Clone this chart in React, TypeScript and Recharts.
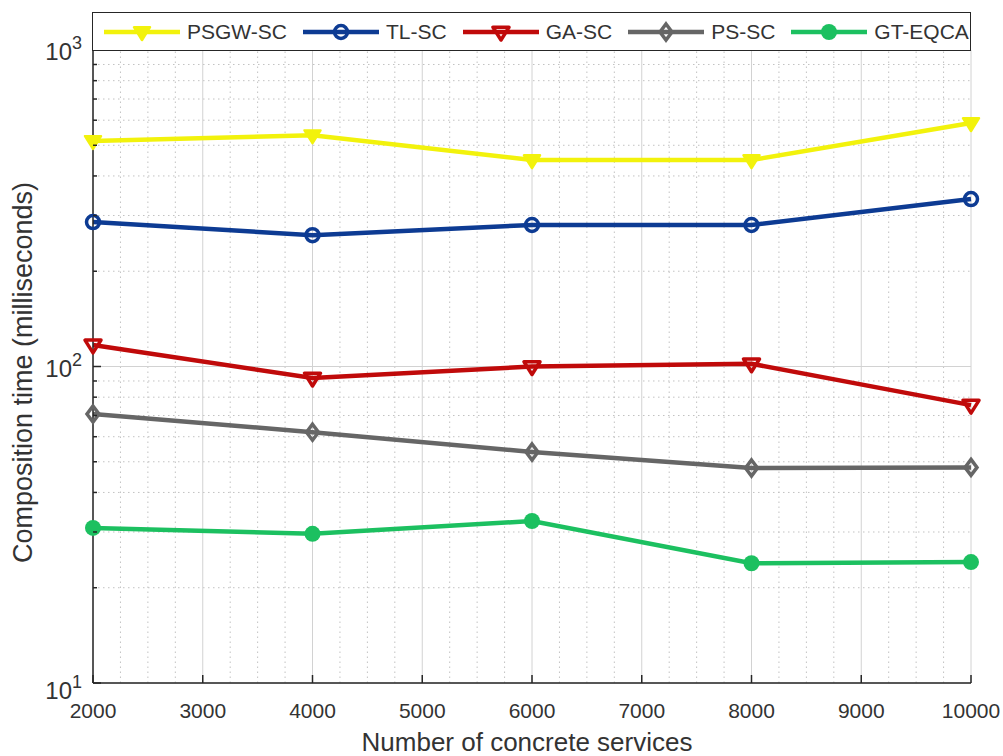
import React from "react";
import { Label, Legend, Line, LineChart, ReferenceLine, XAxis, YAxis } from "recharts";

const services = [2000, 4000, 6000, 8000, 10000];
const psgwSc = [516, 538, 449, 449, 588];
const tlSc = [286, 260, 280, 280, 338];
const gaSc = [117, 92, 100, 102, 75.5];
const psSc = [70.8, 62, 53.7, 47.8, 48];
const gtEqca = [30.9, 29.6, 32.5, 23.9, 24.1];

const xMajorTicks = [2000, 3000, 4000, 5000, 6000, 7000, 8000, 9000, 10000];
const xMinorTicks = [
  2250, 2500, 2750, 3250, 3500, 3750, 4250, 4500, 4750, 5250, 5500, 5750,
  6250, 6500, 6750, 7250, 7500, 7750, 8250, 8500, 8750, 9250, 9500, 9750,
];
const yMajorTicks = [10, 100, 1000];
const yMinorTicks = [20, 30, 40, 50, 60, 70, 80, 90, 200, 300, 400, 500, 600, 700, 800, 900];

type MarkerShape = "triDownFilled" | "circleOpen" | "triDownOpen" | "diamondOpen" | "circleFilled";

const series: { key: string; name: string; color: string; shape: MarkerShape; values: number[] }[] = [
  { key: "psgw", name: "PSGW-SC", color: "#f2f20c", shape: "triDownFilled", values: psgwSc },
  { key: "tl", name: "TL-SC", color: "#0d3b93", shape: "circleOpen", values: tlSc },
  { key: "ga", name: "GA-SC", color: "#c00a0a", shape: "triDownOpen", values: gaSc },
  { key: "ps", name: "PS-SC", color: "#666666", shape: "diamondOpen", values: psSc },
  { key: "gt", name: "GT-EQCA", color: "#1cc060", shape: "circleFilled", values: gtEqca },
];

const data = services.map((n, i) => {
  const row: Record<string, number> = { n };
  series.forEach((s) => (row[s.key] = s.values[i]));
  return row;
});

const FONT = '"Liberation Sans", Arial, Helvetica, sans-serif';
const INK = "#333333";
const AXIS = "#262626";

function Marker({ cx, cy, shape, color }: { cx: number; cy: number; shape: MarkerShape; color: string }) {
  const r = 8;
  switch (shape) {
    case "triDownFilled":
      return (
        <path
          d={`M${cx - r},${cy - r * 0.6} L${cx + r},${cy - r * 0.6} L${cx},${cy + r} Z`}
          fill={color}
          stroke={color}
          strokeWidth={2.5}
          strokeLinejoin="round"
        />
      );
    case "triDownOpen":
      return (
        <path
          d={`M${cx - r},${cy - r * 0.6} L${cx + r},${cy - r * 0.6} L${cx},${cy + r} Z`}
          fill="none"
          stroke={color}
          strokeWidth={3.5}
          strokeLinejoin="round"
        />
      );
    case "circleOpen":
      return <circle cx={cx} cy={cy} r={6.5} fill="none" stroke={color} strokeWidth={3.5} />;
    case "diamondOpen":
      return (
        <path
          d={`M${cx},${cy - r} L${cx + r * 0.75},${cy} L${cx},${cy + r} L${cx - r * 0.75},${cy} Z`}
          fill="none"
          stroke={color}
          strokeWidth={3.5}
        />
      );
    default:
      return <circle cx={cx} cy={cy} r={8} fill={color} />;
  }
}

function BottomTick({ x, y, payload }: any) {
  const major = xMajorTicks.includes(payload.value);
  return (
    <g>
      <line x1={x} x2={x} y1={y} y2={y - (major ? 8 : 0)} stroke={AXIS} strokeWidth={1.5} />
      {major && (
        <text x={x} y={y + 35} textAnchor="middle" fontSize={21} fontFamily={FONT} fill={INK}>
          {payload.value}
        </text>
      )}
    </g>
  );
}

function TopTick({ x, y, payload }: any) {
  const major = xMajorTicks.includes(payload.value);
  return <line x1={x} x2={x} y1={y} y2={y + (major ? 8 : 0)} stroke={AXIS} strokeWidth={1.5} />;
}

function LeftTick({ x, y, payload }: any) {
  const major = yMajorTicks.includes(payload.value);
  const exp = Math.round(Math.log10(payload.value));
  return (
    <g>
      <line x1={x} x2={x + (major ? 8 : 4)} y1={y} y2={y} stroke={AXIS} strokeWidth={1.5} />
      {major && (
        <text
          x={x - 11}
          y={y + (exp === 1 ? 16 : 10)}
          textAnchor="end"
          fontSize={24}
          fontFamily={FONT}
          fill={INK}
        >
          <tspan style={{ fontSize: 24 }}>10</tspan>
          <tspan style={{ fontSize: 18 }} dy={-11}>
            {exp}
          </tspan>
        </text>
      )}
    </g>
  );
}

function RightTick({ x, y, payload }: any) {
  const major = yMajorTicks.includes(payload.value);
  return <line x1={x} x2={x - (major ? 8 : 4)} y1={y} y2={y} stroke={AXIS} strokeWidth={1.5} />;
}

function LegendBox() {
  return (
    <div
      style={{
        boxSizing: "border-box",
        width: 879,
        height: 39,
        border: `1.5px solid ${AXIS}`,
        background: "#fff",
        display: "flex",
        alignItems: "center",
        paddingLeft: 11,
        fontFamily: FONT,
        fontSize: 21,
        color: INK,
        whiteSpace: "nowrap",
      }}
    >
      {series.map((s) => (
        <div key={s.key} style={{ display: "flex", alignItems: "center", marginRight: 16, flexShrink: 0 }}>
          <svg width={76} height={22} style={{ flexShrink: 0 }}>
            <line x1={0} x2={76} y1={11} y2={11} stroke={s.color} strokeWidth={4.5} />
            <Marker cx={38} cy={11} shape={s.shape} color={s.color} />
          </svg>
          <span style={{ marginLeft: 7 }}>{s.name}</span>
        </div>
      ))}
    </div>
  );
}

export default function App() {
  return (
    <div style={{ position: "absolute", left: 0, top: 0, width: 1003, height: 756, background: "#fff" }}>
      <LineChart width={1003} height={756} data={data} margin={{ top: 50, right: 32, bottom: 33, left: 33 }}>
        {xMinorTicks.map((v) => (
          <ReferenceLine
            key={`xm${v}`}
            xAxisId="bottom"
            yAxisId="left"
            x={v}
            stroke="#c2c2c2"
            strokeDasharray="1.5 3.5"
          />
        ))}
        {yMinorTicks.map((v) => (
          <ReferenceLine
            key={`ym${v}`}
            xAxisId="bottom"
            yAxisId="left"
            y={v}
            stroke="#c2c2c2"
            strokeDasharray="1.5 3.5"
          />
        ))}
        {xMajorTicks.map((v) => (
          <ReferenceLine key={`xM${v}`} xAxisId="bottom" yAxisId="left" x={v} stroke="#d2d2d2" />
        ))}
        {yMajorTicks.map((v) => (
          <ReferenceLine key={`yM${v}`} xAxisId="bottom" yAxisId="left" y={v} stroke="#d2d2d2" />
        ))}
        <XAxis
          xAxisId="bottom"
          dataKey="n"
          type="number"
          domain={[2000, 10000]}
          ticks={[...xMajorTicks]}
          interval={0}
          height={40}
          tickSize={0}
          tickMargin={0}
          tickLine={false}
          tick={<BottomTick />}
          axisLine={{ stroke: AXIS, strokeWidth: 1.5 }}
        >
          <Label
            content={({ viewBox }: any) => (
              <text
                x={viewBox.x + viewBox.width / 2 - 5}
                y={viewBox.y + 68}
                textAnchor="middle"
                fontSize={26}
                fontFamily={FONT}
                fill={INK}
              >
                Number of concrete services
              </text>
            )}
          />
        </XAxis>
        <XAxis
          xAxisId="top"
          orientation="top"
          dataKey="n"
          type="number"
          domain={[2000, 10000]}
          ticks={[...xMajorTicks]}
          interval={0}
          height={0}
          tickSize={0}
          tickMargin={0}
          tickLine={false}
          tick={<TopTick />}
          axisLine={{ stroke: AXIS, strokeWidth: 1.5 }}
        />
        <YAxis
          yAxisId="left"
          scale="log"
          domain={[10, 1000]}
          allowDataOverflow
          ticks={[...yMajorTicks, ...yMinorTicks]}
          interval={0}
          width={60}
          tickSize={0}
          tickMargin={0}
          tickLine={false}
          tick={<LeftTick />}
          axisLine={{ stroke: AXIS, strokeWidth: 1.5 }}
        >
          <Label
            content={({ viewBox }: any) => {
              const cx = 23;
              const cy = viewBox.y + viewBox.height / 2 + 6;
              return (
                <text
                  x={cx}
                  y={cy}
                  transform={`rotate(-90 ${cx} ${cy})`}
                  textAnchor="middle"
                  dominantBaseline="central"
                  fontSize={27}
                  fontFamily={FONT}
                  fill={INK}
                >
                  Composition time (milliseconds)
                </text>
              );
            }}
          />
        </YAxis>
        <YAxis
          yAxisId="right"
          orientation="right"
          scale="log"
          domain={[10, 1000]}
          allowDataOverflow
          ticks={[...yMajorTicks, ...yMinorTicks]}
          interval={0}
          width={0}
          tickSize={0}
          tickMargin={0}
          tickLine={false}
          tick={<RightTick />}
          axisLine={{ stroke: AXIS, strokeWidth: 1.5 }}
        />
        <Legend
          layout="horizontal"
          verticalAlign="middle"
          align="center"
          wrapperStyle={{ top: 12, left: 92, width: 879, height: 39 }}
          content={() => <LegendBox />}
        />
        {series.map((s) => (
          <Line
            key={s.key}
            xAxisId="bottom"
            yAxisId="left"
            type="linear"
            dataKey={s.key}
            name={s.name}
            stroke={s.color}
            strokeWidth={4.5}
            isAnimationActive={false}
            dot={(p: any) => (
              <Marker key={`${s.key}-${p.index}`} cx={p.cx} cy={p.cy} shape={s.shape} color={s.color} />
            )}
            activeDot={false}
          />
        ))}
      </LineChart>
    </div>
  );
}
